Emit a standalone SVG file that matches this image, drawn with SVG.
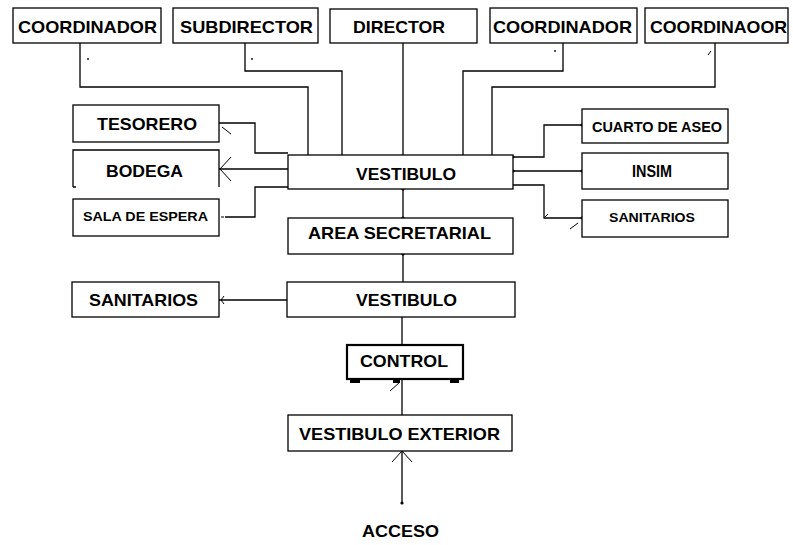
<svg xmlns="http://www.w3.org/2000/svg" width="793" height="545" viewBox="0 0 793 545">
<style>
.b{fill:#fff;stroke:#000;stroke-width:1.3}
.bt{fill:#fff;stroke:#000;stroke-width:2.2}
.t{font-family:"Liberation Sans",Arial,sans-serif;font-weight:bold;fill:#000;text-anchor:middle}
.c{fill:none;stroke:#000;stroke-width:1.3}
.m{fill:none;stroke:#000;stroke-width:1}
</style>
<rect width="793" height="545" fill="#fff"/>
<g id="connectors">
<path class="c" d="M80,43V87H308V155"/>
<path class="c" d="M245,43V71H342V155"/>
<path class="c" d="M403,43V155"/>
<path class="c" d="M563,43V71H463V155"/>
<path class="c" d="M715,43V87H492V155"/>
<path class="c" d="M219,123H255V153H288"/>
<path class="c" d="M219,169H288"/>
<path class="c" d="M225,217H255V187H288"/>
<path class="c" d="M513,157H544V125H582"/>
<path class="c" d="M513,171H582"/>
<path class="c" d="M513,185H544V218H582"/>
<path class="c" d="M403,189V218"/>
<path class="c" d="M403,254V282"/>
<path class="c" d="M287,300H219"/>
<path class="c" d="M402,317V345"/>
<path class="c" d="M402,379V415"/>
<path class="c" d="M402,503V451"/>
<path class="m" d="M222,127L231,134"/>
<path class="m" d="M231,157L220,169L231,181"/>
<path class="m" d="M221,217H224"/>
<path class="m" d="M224,296L221,300L224,304"/>
<path class="m" d="M545,217L548,214"/>
<path class="m" d="M570,229L578,223"/>
<path class="m" d="M390,391L400,382"/>
<path class="m" d="M392,462L402,451L412,462"/>
<path class="m" d="M708,55L711,51"/>
<circle cx="88" cy="59" r="0.9"/>
<circle cx="252" cy="59" r="0.9"/>
<circle cx="555" cy="51" r="0.9"/>
<circle cx="403" cy="189" r="1.6"/>
<circle cx="403" cy="218" r="1.6"/>
<circle cx="403" cy="254" r="1.6"/>
<circle cx="513" cy="157" r="1.4"/>
<circle cx="513" cy="171" r="1.6"/>
<circle cx="582" cy="125" r="1.6"/>
<circle cx="582" cy="171" r="1.6"/>
<circle cx="582" cy="218" r="1.4"/>
<circle cx="402" cy="503" r="1.6"/>
</g>
<g id="coordinador1"><rect class="b" x="13" y="8" width="148" height="35"/><text class="t" x="87.5" y="33" font-size="17" textLength="139" lengthAdjust="spacingAndGlyphs">COORDINADOR</text></g>
<g id="subdirector"><rect class="b" x="173" y="8" width="145" height="35"/><text class="t" x="246.5" y="33" font-size="17" textLength="133" lengthAdjust="spacingAndGlyphs">SUBDIRECTOR</text></g>
<g id="director"><rect class="b" x="330" y="9" width="147" height="34"/><text class="t" x="399" y="33" font-size="17" textLength="92" lengthAdjust="spacingAndGlyphs">DIRECTOR</text></g>
<g id="coordinador2"><rect class="b" x="490" y="8" width="147" height="35"/><text class="t" x="562.5" y="33" font-size="17" textLength="139" lengthAdjust="spacingAndGlyphs">COORDINADOR</text></g>
<g id="coordinaoor"><rect class="b" x="645" y="8" width="143" height="35"/><text class="t" x="718.5" y="33" font-size="17" textLength="137" lengthAdjust="spacingAndGlyphs">COORDINAOOR</text></g>
<g id="tesorero"><rect class="b" x="73" y="105" width="146" height="37"/><text class="t" x="147" y="130" font-size="17" textLength="100" lengthAdjust="spacingAndGlyphs">TESORERO</text></g>
<g id="bodega"><path class="c" d="M73,187V150H219V187M73,187H76"/><text class="t" x="144.5" y="177" font-size="17" textLength="77" lengthAdjust="spacingAndGlyphs">BODEGA</text></g>
<g id="sala-espera"><rect class="b" x="73" y="199" width="146" height="37"/><text class="t" x="145.5" y="221" font-size="12" textLength="125" lengthAdjust="spacingAndGlyphs">SALA DE ESPERA</text></g>
<g id="vestibulo1"><rect class="b" x="288" y="155" width="225" height="34"/><text class="t" x="406" y="180" font-size="17" textLength="100" lengthAdjust="spacingAndGlyphs">VESTIBULO</text></g>
<g id="cuarto-aseo"><rect class="b" x="582" y="109" width="146" height="34"/><text class="t" x="657" y="132" font-size="15" textLength="130" lengthAdjust="spacingAndGlyphs">CUARTO DE ASEO</text></g>
<g id="insim"><rect class="b" x="582" y="153" width="146" height="36"/><text class="t" x="652" y="177" font-size="17" textLength="40" lengthAdjust="spacingAndGlyphs">INSIM</text></g>
<g id="sanitarios-der"><rect class="b" x="582" y="200" width="146" height="37"/><text class="t" x="652" y="222" font-size="13" textLength="86" lengthAdjust="spacingAndGlyphs">SANITARIOS</text></g>
<g id="area-secretarial"><rect class="b" x="288" y="218" width="225" height="36"/><text class="t" x="399.5" y="239" font-size="17" textLength="183" lengthAdjust="spacingAndGlyphs">AREA SECRETARIAL</text></g>
<g id="sanitarios-izq"><rect class="b" x="72" y="282" width="147" height="35"/><text class="t" x="143.5" y="306" font-size="17" textLength="109" lengthAdjust="spacingAndGlyphs">SANITARIOS</text></g>
<g id="vestibulo2"><rect class="b" x="287" y="282" width="228" height="35"/><text class="t" x="406.5" y="306" font-size="17" textLength="101" lengthAdjust="spacingAndGlyphs">VESTIBULO</text></g>
<g id="control"><rect class="bt" x="347" y="345" width="116" height="34"/><rect x="350" y="379" width="10" height="4"/><rect x="393" y="379" width="7" height="4"/><rect x="450" y="379" width="9" height="4"/><text class="t" x="404" y="367" font-size="17" textLength="88" lengthAdjust="spacingAndGlyphs">CONTROL</text></g>
<g id="vestibulo-exterior"><rect class="b" x="288" y="415" width="224" height="36"/><text class="t" x="399.5" y="440" font-size="17" textLength="201" lengthAdjust="spacingAndGlyphs">VESTIBULO EXTERIOR</text></g>
<g id="acceso"><text class="t" x="400.5" y="537" font-size="17" textLength="77" lengthAdjust="spacingAndGlyphs">ACCESO</text></g>
</svg>
